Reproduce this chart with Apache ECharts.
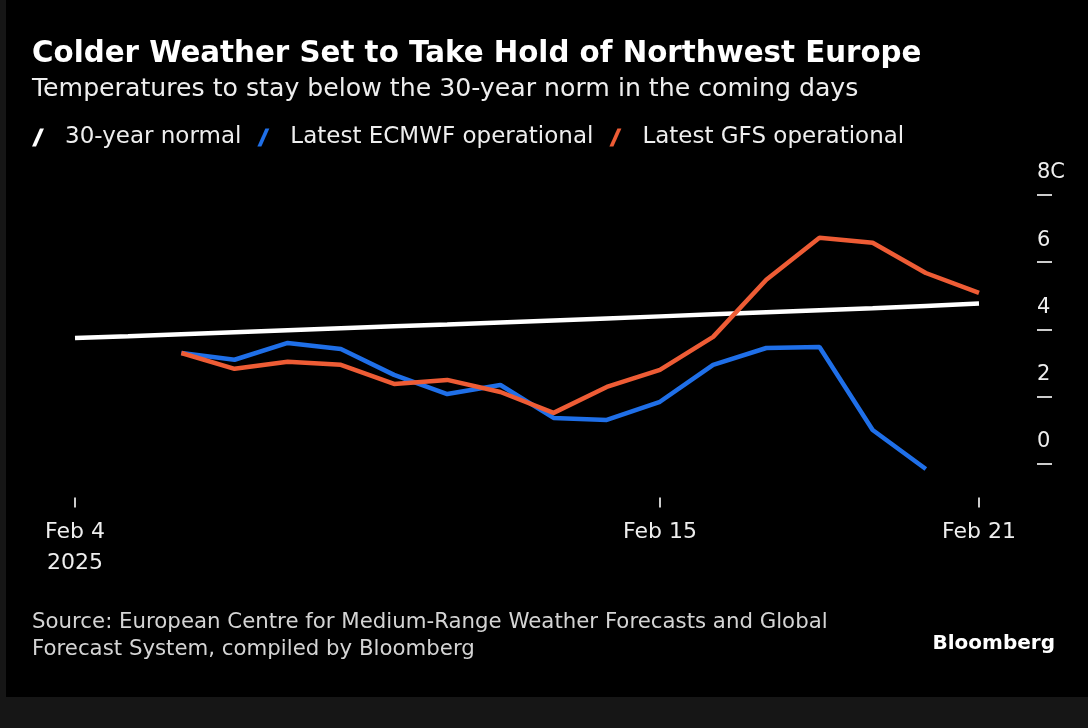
<!DOCTYPE html>
<html>
<head>
<meta charset="utf-8">
<script src="https://cdn.jsdelivr.net/npm/echarts@6/dist/echarts.min.js"></script>
<style>
  body { margin: 0; background: #161616; }
  #main { position: absolute; left: 6px; top: 0; width: 1082px; height: 697px; }
</style>
</head>
<body>
<div id="main"></div>
<script>
// data (deg C)
var days = ['Feb 4', 'Feb 5', 'Feb 6', 'Feb 7', 'Feb 8', 'Feb 9', 'Feb 10', 'Feb 11', 'Feb 12',
            'Feb 13', 'Feb 14', 'Feb 15', 'Feb 16', 'Feb 17', 'Feb 18', 'Feb 19', 'Feb 20', 'Feb 21'];
var normal = [3.75, 3.8, 3.86, 3.92, 3.98, 4.04, 4.1, 4.15, 4.21, 4.27, 4.33, 4.39, 4.45, 4.51, 4.57, 4.63, 4.7, 4.77];
var ecmwf = [null, null, 3.3, 3.1, 3.6, 3.42, 2.65, 2.08, 2.35, 1.37, 1.31, 1.85, 2.95, 3.45, 3.48, 1.01, -0.15, null];
var gfs = [null, null, 3.3, 2.83, 3.04, 2.95, 2.38, 2.5, 2.14, 1.52, 2.29, 2.8, 3.78, 5.48, 6.73, 6.58, 5.68, 5.09];
var yTicks = [0, 2, 4, 6, 8];
var xLabelIdx = [0, 11, 17];

var font = 'DejaVu Sans';
var slash = 'path://M8,0 L12,0 L4,18 L0,18 Z';

var myChart = echarts.init(document.getElementById('main'));

var option = {
    backgroundColor: '#000',
    animation: false,
    title: [{
        text: 'Colder Weather Set to Take Hold of Northwest Europe',
        left: 26, top: 40, padding: 0,
        textStyle: { color: '#fff', fontFamily: font, fontWeight: 'bold', fontSize: 29.3 }
    }, {
        text: 'Temperatures to stay below the 30-year norm in the coming days',
        left: 26, top: 77, padding: 0,
        textStyle: { color: '#eee', fontFamily: font, fontWeight: 'normal', fontSize: 25.2 }
    }, {
        text: 'Source: European Centre for Medium-Range Weather Forecasts and Global\nForecast System, compiled by Bloomberg',
        left: 26, top: 609, padding: 0,
        textStyle: { color: '#d4d4d4', fontFamily: font, fontWeight: 'normal', fontSize: 21.3, lineHeight: 27 }
    }, {
        text: 'Bloomberg',
        right: 33, top: 634, padding: 0,
        textStyle: { color: '#fff', fontFamily: font, fontWeight: 'bold', fontSize: 20 }
    }],
    legend: {
        left: 26, top: 126, padding: 0,
        itemWidth: 12, itemHeight: 22, itemGap: 16,
        textStyle: { color: '#eee', fontFamily: font, fontSize: 23, padding: [0, 0, 0, 16] },
        data: [
            { name: '30-year normal', icon: slash },
            { name: 'Latest ECMWF operational', icon: slash },
            { name: 'Latest GFS operational', icon: slash }
        ]
    },
    grid: { left: 69, right: 109, top: 195, bottom: 199.4 },
    xAxis: {
        type: 'category',
        data: days,
        boundaryGap: false,
        axisLine: { show: false, onZero: false },
        axisTick: {
            show: true, length: 10,
            interval: function (i) { return xLabelIdx.indexOf(i) >= 0; },
            lineStyle: { color: '#ccc', width: 2 }
        },
        axisLabel: {
            interval: function (i) { return xLabelIdx.indexOf(i) >= 0; },
            color: '#eee', fontFamily: font, fontSize: 22, lineHeight: 31, margin: 19,
            formatter: function (v, i) { return i === 0 ? v + '\n2025' : v; }
        },
        splitLine: { show: false }
    },
    yAxis: {
        type: 'value',
        position: 'right',
        min: -1, max: 8,
        offset: 58,
        axisLine: { show: false },
        axisTick: { show: true, length: 15, customValues: yTicks, lineStyle: { color: '#ccc', width: 2 } },
        axisLabel: {
            customValues: yTicks,
            color: '#eee', fontFamily: font, fontSize: 21,
            align: 'left', margin: 0,
            verticalAlign: 'bottom', lineHeight: 24, padding: [0, 0, 10, 0],
            formatter: function (v) { return v === 8 ? '8C' : String(v); }
        },
        splitLine: { show: false }
    },
    series: [{
        name: '30-year normal', type: 'line', data: normal,
        symbol: 'none', color: '#ffffff', lineStyle: { width: 4.5, color: '#ffffff' }
    }, {
        name: 'Latest ECMWF operational', type: 'line', data: ecmwf,
        symbol: 'none', color: '#1f6fe8', lineStyle: { width: 4.5, color: '#1f6fe8' }
    }, {
        name: 'Latest GFS operational', type: 'line', data: gfs,
        symbol: 'none', color: '#ee5c35', lineStyle: { width: 4.5, color: '#ee5c35' }
    }]
};

myChart.setOption(option);
</script>
</body>
</html>
